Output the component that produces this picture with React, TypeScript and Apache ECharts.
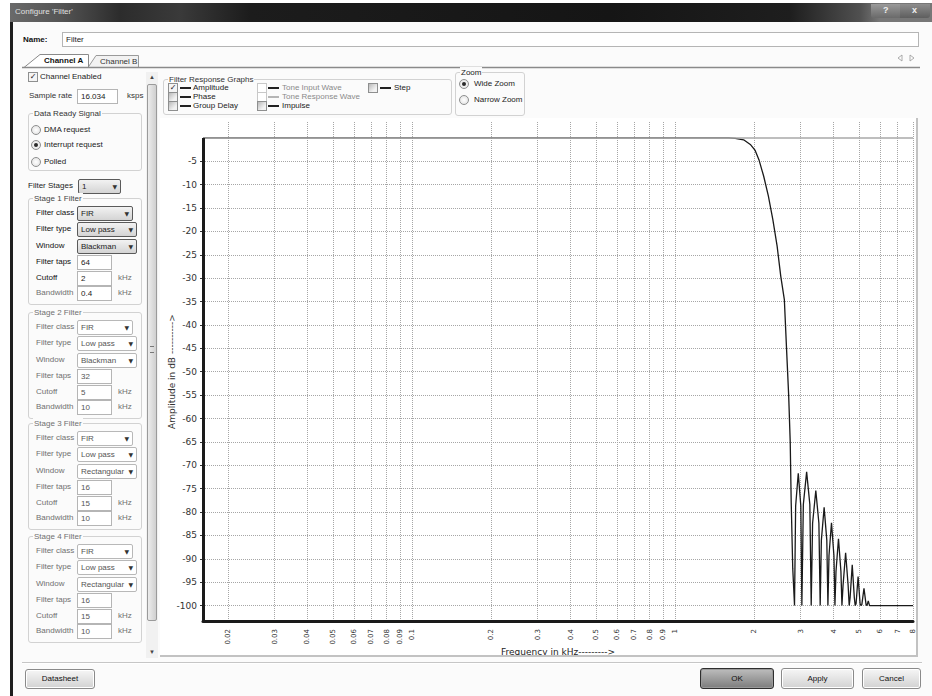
import React, { useEffect, useRef } from "react";
import * as echarts from "echarts";

// ---------- chart data ----------
const freqMin = 0.016034;
const freqMax = 8.017;
const yMin = -103.3;
const yMax = 3.4;

const xTicks = [0.02, 0.03, 0.04, 0.05, 0.06, 0.07, 0.08, 0.09, 0.1, 0.2, 0.3, 0.4, 0.5, 0.6, 0.7, 0.8, 0.9, 1, 2, 3, 4, 5, 6, 7, 8];
const xTickLabels = ["0.02", "0.03", "0.04", "0.05", "0.06", "0.07", "0.08", "0.09", "0.1", "0.2", "0.3", "0.4", "0.5", "0.6", "0.7", "0.8", "0.9", "1", "2", "3", "4", "5", "6", "7", "8"];
const yTicks = [-5, -10, -15, -20, -25, -30, -35, -40, -45, -50, -55, -60, -65, -70, -75, -80, -85, -90, -95, -100];

// amplitude response (kHz, dB)
const respFreq = [
  0.016034, 1.6, 1.69, 1.82, 1.93, 2.01, 2.085, 2.17, 2.26, 2.35, 2.44, 2.52, 2.6, 2.65, 2.7, 2.737, 2.761, 2.798, 2.842,
  2.87, 2.937, 3.003, 3.031,
  3.07, 3.16, 3.25, 3.289,
  3.329, 3.424, 3.518, 3.558,
  3.595, 3.683, 3.77, 3.807,
  3.843, 3.928, 4.012, 4.048,
  4.086, 4.176, 4.266, 4.304,
  4.346, 4.445, 4.544, 4.586,
  4.623, 4.71, 4.797, 4.834,
  4.871, 4.958, 5.045, 5.082,
  5.123, 5.22, 5.316, 5.357,
  5.42, 5.48, 8.017,
];
const respDb = [
  0, 0, -0.1, -0.4, -1.4, -2.6, -4.8, -8.2, -12.4, -17.4, -23.1, -29.6, -34.6, -45, -55, -65, -78, -92, -100,
  -78.7, -71.7, -78.7, -100,
  -78.4, -71.4, -78.4, -100,
  -82.4, -75.4, -82.4, -100,
  -86, -79, -86, -100,
  -89.3, -82.3, -89.3, -100,
  -92.7, -85.7, -92.7, -100,
  -95.7, -88.7, -95.7, -100,
  -98.3, -91.3, -98.3, -100,
  -99.6, -93.8, -99.6, -100,
  -99.8, -96.3, -99.8, -100,
  -99, -100, -100,
];

// ---------- UI helpers ----------
const F = '"Liberation Sans",Arial,sans-serif';
const BG = "#fbfbfb";

const T = ({ x, y, s, c = "#222", size = 8, bold = false }: any) => (
  <div style={{ position: "absolute", left: x, top: y - 6, height: 12, lineHeight: "12px", fontSize: size, color: c, fontWeight: bold ? "bold" : "normal", fontFamily: F, whiteSpace: "nowrap" }}>{s}</div>
);

const Check = ({ x, y, checked = false, disabled = false }: any) => (
  <div style={{ position: "absolute", left: x, top: y - 5, width: 10, height: 10, boxSizing: "border-box", border: `1px solid ${disabled ? "#c8c8c8" : "#8e8f8f"}`, background: disabled ? "#fff" : checked ? "#f4f4f4" : "linear-gradient(135deg,#b9b9b9,#f2f2f2 70%)", fontSize: 8, lineHeight: "8px", textAlign: "center", color: "#222", fontFamily: "DejaVu Sans" }}>{checked ? "✓" : ""}</div>
);

const Radio = ({ x, y, sel = false }: any) => (
  <div style={{ position: "absolute", left: x, top: y - 5, width: 10, height: 10, boxSizing: "border-box", borderRadius: "50%", border: "1px solid #8e8f8f", background: "radial-gradient(circle,#fff,#dedede)" }}>
    {sel ? <div style={{ position: "absolute", left: 2, top: 2, width: 4, height: 4, borderRadius: "50%", background: "#2a2a2a" }} /> : null}
  </div>
);

const Drop = ({ x, y, w, s, active = false, c = "#222" }: any) => (
  <div style={{ position: "absolute", left: x, top: y - 7, width: w, height: 15, boxSizing: "border-box", border: active ? "1px solid #5a5a5a" : "1px solid #b8b8b8", background: active ? "linear-gradient(#f2f2f2,#d4d4d4)" : "#fff", borderRadius: 2 }}>
    <div style={{ position: "absolute", left: 3, top: 1, lineHeight: "12px", fontSize: 8, color: c, fontFamily: F, whiteSpace: "nowrap" }}>{s}</div>
    <div style={{ position: "absolute", right: 3, top: 1, lineHeight: "12px", fontSize: 6, color: "#333", fontFamily: "DejaVu Sans" }}>▼</div>
  </div>
);

const Inp = ({ x, y, w, s, c = "#222" }: any) => (
  <div style={{ position: "absolute", left: x, top: y - 7, width: w, height: 15, boxSizing: "border-box", border: "1px solid #b5b5b5", background: "#fff" }}>
    <div style={{ position: "absolute", left: 3, top: 1, lineHeight: "12px", fontSize: 8, color: c, fontFamily: F, whiteSpace: "nowrap" }}>{s}</div>
  </div>
);

const Group = ({ x, y, w, h, title, c = "#444" }: any) => (
  <div style={{ position: "absolute", left: x, top: y, width: w, height: h, boxSizing: "border-box", border: "1px solid #d2d2d2", borderRadius: 3 }}>
    <div style={{ position: "absolute", left: 4, top: -6, background: BG, padding: "0 1px", fontSize: 8, lineHeight: "11px", color: c, fontFamily: F, whiteSpace: "nowrap" }}>{title}</div>
  </div>
);

const Dash = ({ x, y, c = "#222" }: any) => <div style={{ position: "absolute", left: x, top: y - 1, width: 11, height: 2, background: c }} />;

const Btn = ({ x, y, w, h, s, dark = false }: any) => (
  <div style={{ position: "absolute", left: x, top: y, width: w, height: h, boxSizing: "border-box", border: dark ? "1px solid #2e2e2e" : "1px solid #8a8a8a", borderRadius: 3, background: dark ? "linear-gradient(#bdbdbd,#7d7d7d)" : "linear-gradient(#f6f6f6,#d2d2d2)", boxShadow: dark ? "inset 0 0 0 1px #9a9a9a" : "inset 0 0 0 1px #fff", textAlign: "center", lineHeight: `${h - 2}px`, fontSize: 8, color: "#111", fontFamily: F }}>{s}</div>
);

const stages = [
  { title: "Stage 1 Filter", top: 198, cls: "FIR", type: "Low pass", win: "Blackman", taps: "64", cutoff: "2", bw: "0.4", active: true },
  { title: "Stage 2 Filter", top: 312, cls: "FIR", type: "Low pass", win: "Blackman", taps: "32", cutoff: "5", bw: "10", active: false },
  { title: "Stage 3 Filter", top: 423, cls: "FIR", type: "Low pass", win: "Rectangular", taps: "16", cutoff: "15", bw: "10", active: false },
  { title: "Stage 4 Filter", top: 536, cls: "FIR", type: "Low pass", win: "Rectangular", taps: "16", cutoff: "15", bw: "10", active: false },
];
const rowOff = [15, 31, 48, 64, 80, 95];

const Stage = ({ st }: any) => {
  const lc = st.active ? "#111" : "#707070";
  const vc = st.active ? "#222" : "#555";
  const r = rowOff.map((o) => st.top + o);
  return (
    <>
      <Group x={28} y={st.top} w={114} h={107} title={st.title} c={st.active ? "#444" : "#707070"} />
      <T x={36} y={r[0]} s="Filter class" c={lc} />
      <Drop x={77} y={r[0]} w={56} s={st.cls} active={st.active} c={vc} />
      <T x={36} y={r[1]} s="Filter type" c={lc} />
      <Drop x={77} y={r[1]} w={60} s={st.type} active={st.active} c={vc} />
      <T x={36} y={r[2]} s="Window" c={lc} />
      <Drop x={77} y={r[2]} w={60} s={st.win} active={st.active} c={vc} />
      <T x={36} y={r[3]} s="Filter taps" c={lc} />
      <Inp x={77} y={r[3]} w={35} s={st.taps} c={vc} />
      <T x={36} y={r[4]} s="Cutoff" c={lc} />
      <Inp x={77} y={r[4]} w={35} s={st.cutoff} c={vc} />
      <T x={118} y={r[4]} s="kHz" c="#707070" />
      <T x={36} y={r[5]} s="Bandwidth" c="#707070" />
      <Inp x={77} y={r[5]} w={35} s={st.bw} c={vc} />
      <T x={118} y={r[5]} s="kHz" c="#707070" />
    </>
  );
};

export default function App() {
  const chartRef = useRef<HTMLDivElement>(null);

  useEffect(() => {
    const chart = echarts.init(chartRef.current!, null, { renderer: "svg" });
    const data = respFreq.map((f, i) => [f, respDb[i]]);
    const fmtX = (v: number) => {
      const i = xTicks.findIndex((t) => Math.abs(t - v) / t < 1e-6);
      return i >= 0 ? xTickLabels[i] : "";
    };
    chart.setOption({
      animation: false,
      grid: { left: 43, top: 4, right: 3, bottom: 34, containLabel: false, outerBoundsMode: "none" },
      xAxis: {
        type: "log",
        logBase: 10,
        min: freqMin,
        max: freqMax,
        name: "Frequency in kHz--------->",
        nameLocation: "middle",
        nameGap: 26,
        nameMoveOverlap: false,
        nameTextStyle: { fontSize: 9, color: "#222", fontFamily: "DejaVu Sans" },
        axisLine: { show: true, onZero: false, lineStyle: { color: "#1a1a1a", width: 3 } },
        axisTick: { show: false, customValues: xTicks },
        minorTick: { show: false },
        axisLabel: { customValues: xTicks, rotate: 90, margin: 8, fontSize: 7, color: "#333", fontFamily: "DejaVu Sans", formatter: fmtX },
        splitLine: { show: true, lineStyle: { color: "#a6a6a6", type: "dotted", width: 1 } },
      },
      yAxis: {
        type: "value",
        min: yMin,
        max: yMax,
        name: "Amplitude in dB ---------->",
        nameLocation: "middle",
        nameGap: 27,
        nameMoveOverlap: false,
        nameTextStyle: { fontSize: 9, color: "#333", fontFamily: "DejaVu Sans" },
        axisLine: { show: false },
        axisTick: { show: true, customValues: yTicks, length: 3, lineStyle: { color: "#333" } },
        axisLabel: { customValues: yTicks, fontSize: 9, color: "#333", margin: 6, fontFamily: "DejaVu Sans" },
        splitLine: { show: true, lineStyle: { color: "#a6a6a6", type: "dotted", width: 1 } },
      },
      series: [
        {
          type: "line",
          data,
          symbol: "none",
          lineStyle: { color: "#1a1a1a", width: 1.3 },
          markLine: {
            silent: true,
            symbol: "none",
            label: { show: false },
            data: [
              [{ coord: [freqMin, 0], lineStyle: { color: "#a8a8a8", width: 1.5, type: "solid" } }, { coord: [freqMax, 0] }],
              [{ coord: [freqMin, 0], lineStyle: { color: "#1a1a1a", width: 3, type: "solid" } }, { coord: [freqMin, yMin] }],
            ],
          },
        },
      ],
    });
    return () => chart.dispose();
  }, []);

  return (
    <div style={{ position: "fixed", left: 0, top: 0, width: 932, height: 696, overflow: "hidden", background: "#fff", fontFamily: F }}>
      {/* window body */}
      <div style={{ position: "absolute", left: 13, top: 22, width: 919, height: 674, background: BG }} />
      {/* left frame */}
      <div style={{ position: "absolute", left: 10, top: 3, width: 3, height: 693, background: "#1e1e1e" }} />
      {/* title bar */}
      <div style={{ position: "absolute", left: 10, top: 3, width: 922, height: 19, background: "linear-gradient(90deg,#6a6a6a 0px,#555 50px,#2c2c2c 110px,#3a3a3a 170px,#1c1c1c 240px,#151515 600px,#1e1e1e 780px,#505050 850px,#777 870px)" }} />
      <T x={15} y={12} s="Configure 'Filter'" c="#e0e0e0" />
      <div style={{ position: "absolute", left: 871, top: 4, width: 29, height: 14, background: "linear-gradient(#9a9a9a,#6a6a6a)", borderRadius: "0 0 0 3px" }} />
      <div style={{ position: "absolute", left: 900, top: 4, width: 30, height: 14, background: "linear-gradient(#8e8e8e,#5e5e5e)", borderRadius: "0 0 3px 0" }} />
      <T x={883} y={10} s="?" c="#f0f0f0" size={9} bold />
      <T x={912} y={10} s="x" c="#f0f0f0" size={9} bold />

      {/* name */}
      <T x={23} y={40} s="Name:" c="#111" bold />
      <div style={{ position: "absolute", left: 62, top: 32, width: 857, height: 15, boxSizing: "border-box", border: "1px solid #b5b5b5", background: "#fff" }} />
      <T x={66} y={40} s="Filter" c="#222" />

      {/* tabs */}
      <svg style={{ position: "absolute", left: 0, top: 0 }} width={932} height={80}>
        <polygon points="88,67.5 96,55.5 138.5,55.5 138.5,67.5" fill="#f2f2f2" stroke="#9a9a9a" strokeWidth={1} />
        <polygon points="24,67.5 40,54.5 88.5,54.5 88.5,67.5" fill="#fff" stroke="#8a8a8a" strokeWidth={1} />
        <line x1={22} y1={67.5} x2={920} y2={67.5} stroke="#8a8a8a" strokeWidth={1.5} />
        <polygon points="898,58 902,55 902,61" fill="none" stroke="#999" strokeWidth={0.8} />
        <polygon points="910,55 914,58 910,61" fill="none" stroke="#999" strokeWidth={0.8} />
      </svg>
      <T x={44} y={61} s="Channel A" c="#111" bold />
      <T x={100} y={62} s="Channel B" c="#333" />

      {/* left panel */}
      <Check x={28} y={77} checked />
      <T x={40} y={77} s="Channel Enabled" />
      <T x={29} y={96} s="Sample rate" c="#333" />
      <Inp x={77} y={96} w={41} s="16.034" />
      <T x={127} y={96} s="ksps" c="#333" />

      <Group x={28} y={113} w={114} h={58} title="Data Ready Signal" c="#333" />
      <Radio x={31} y={130} />
      <T x={44} y={130} s="DMA request" />
      <Radio x={31} y={145} sel />
      <T x={44} y={145} s="Interrupt request" />
      <Radio x={31} y={162} />
      <T x={44} y={162} s="Polled" />

      <T x={28} y={186} s="Filter Stages" c="#222" />
      <Drop x={78} y={186} w={43} s="1" active />

      {stages.map((st) => (
        <Stage key={st.title} st={st} />
      ))}

      {/* scrollbar */}
      <div style={{ position: "absolute", left: 146, top: 72, width: 12, height: 586, background: "#f1f1f1" }} />
      <T x={149} y={77} s="▲" c="#444" size={6} />
      <div style={{ position: "absolute", left: 147, top: 84, width: 10, height: 537, boxSizing: "border-box", border: "1px solid #9a9a9a", borderRadius: 2, background: "linear-gradient(90deg,#ececec,#cfcfcf)" }} />
      <div style={{ position: "absolute", left: 150, top: 346, width: 4, height: 5, borderTop: "1px solid #777", borderBottom: "1px solid #777" }} />
      <T x={149} y={652} s="▼" c="#444" size={6} />

      {/* response graph options */}
      <Group x={163} y={79} w={289} h={36} title="Filter Response Graphs" c="#333" />
      <Check x={168} y={88} checked />
      <Dash x={180} y={88} />
      <T x={193} y={88} s="Amplitude" />
      <Check x={168} y={97} />
      <Dash x={180} y={97} />
      <T x={193} y={97} s="Phase" />
      <Check x={168} y={106} />
      <Dash x={180} y={106} />
      <T x={193} y={106} s="Group Delay" />
      <Check x={257} y={88} disabled />
      <Dash x={268} y={88} />
      <T x={282} y={88} s="Tone Input Wave" c="#8a8a8a" />
      <Check x={257} y={97} disabled />
      <Dash x={268} y={97} c="#b5b5b5" />
      <T x={282} y={97} s="Tone Response Wave" c="#8a8a8a" />
      <Check x={257} y={106} />
      <Dash x={268} y={106} />
      <T x={282} y={106} s="Impulse" />
      <Check x={368} y={88} />
      <Dash x={380} y={88} />
      <T x={394} y={88} s="Step" />

      <Group x={455} y={72} w={70} h={44} title="Zoom" c="#222" />
      <Radio x={459} y={84} sel />
      <T x={474} y={84} s="Wide Zoom" />
      <Radio x={459} y={100} />
      <T x={474} y={100} s="Narrow Zoom" />

      {/* chart panel */}
      <div style={{ position: "absolute", left: 160, top: 118, width: 758, height: 539, boxSizing: "border-box", background: "#fff", borderRight: "2px solid #c2c2c2", borderBottom: "2px solid #c2c2c2" }} />
      <div ref={chartRef} style={{ position: "absolute", left: 160, top: 118, width: 756, height: 537 }} />

      {/* bottom */}
      <div style={{ position: "absolute", left: 22, top: 662, width: 900, height: 1, background: "#c6c6c6" }} />
      <div style={{ position: "absolute", left: 22, top: 663, width: 900, height: 1, background: "#fff" }} />
      <Btn x={25} y={669} w={70} h={20} s="Datasheet" />
      <Btn x={700} y={668} w={74} h={21} s="OK" dark />
      <Btn x={781} y={668} w={73} h={21} s="Apply" />
      <Btn x={862} y={668} w={59} h={21} s="Cancel" />
    </div>
  );
}
